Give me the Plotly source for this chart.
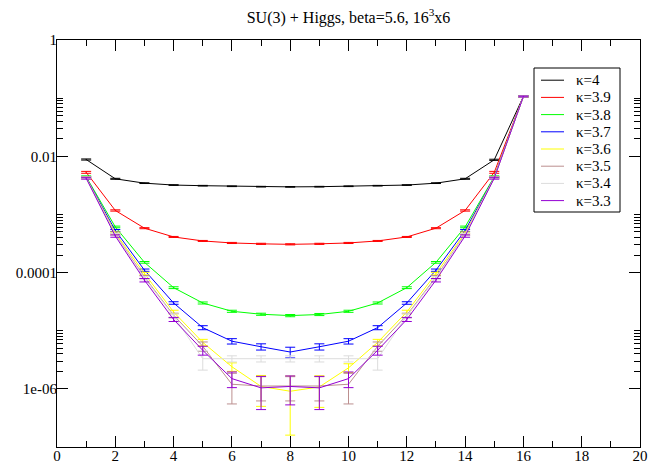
import plotly.graph_objects as go

# ---------------- data ----------------
t = list(range(1, 17))

kappa_labels = ["κ=4", "κ=3.9", "κ=3.8", "κ=3.7", "κ=3.6", "κ=3.5", "κ=3.4", "κ=3.3"]

k40 = [8.8e-3, 4.1e-3, 3.45e-3, 3.2e-3, 3.12e-3, 3.05e-3, 3.0e-3, 2.98e-3,
       3.0e-3, 3.05e-3, 3.12e-3, 3.2e-3, 3.45e-3, 4.1e-3, 8.7e-3, 0.107]
k40_err = [2.0e-4, 8e-5, 5e-5, 4e-5, 4e-5, 4e-5, 4e-5, 4e-5,
           4e-5, 4e-5, 4e-5, 4e-5, 5e-5, 8e-5, 2.0e-4, 2e-3]

k39 = [5.3e-3, 1.17e-3, 5.8e-4, 4.1e-4, 3.5e-4, 3.23e-4, 3.12e-4, 3.06e-4,
       3.12e-4, 3.23e-4, 3.5e-4, 4.1e-4, 5.8e-4, 1.17e-3, 5.3e-3, 0.107]
k39_err = [2e-4, 3e-5, 1.2e-5, 8e-6, 7e-6, 7e-6, 7e-6, 7e-6,
           7e-6, 7e-6, 7e-6, 8e-6, 1.2e-5, 3e-5, 2e-4, 2e-3]

k38 = [4.45e-3, 6.1e-4, 1.5e-4, 5.5e-5, 3.0e-5, 2.16e-5, 1.92e-5, 1.82e-5,
       1.9e-5, 2.16e-5, 3.0e-5, 5.5e-5, 1.5e-4, 6.1e-4, 4.45e-3, 0.107]
k38_err = [1.5e-4, 2e-5, 5e-6, 2e-6, 1.2e-6, 9e-7, 8e-7, 8e-7,
           8e-7, 9e-7, 1.2e-6, 2e-6, 5e-6, 2e-5, 1.5e-4, 2e-3]

k37 = [4.35e-3, 5.3e-4, 1.1e-4, 3.0e-5, 1.13e-5, 6.6e-6, 5.3e-6, 4.3e-6,
       5.3e-6, 6.6e-6, 1.13e-5, 3.0e-5, 1.1e-4, 5.3e-4, 4.35e-3, 0.107]
k37_err = [1.5e-4, 2e-5, 5e-6, 1.5e-6, 9e-7, 7e-7, 6.5e-7, 9e-7,
           6.5e-7, 7e-7, 9e-7, 1.5e-6, 5e-6, 2e-5, 1.5e-4, 2e-3]

k36 = [4.3e-3, 4.8e-4, 9.6e-5, 2.1e-5, 6.3e-6, 2.4e-6, 1.1e-6, 9.1e-7,
       1.08e-6, 2.3e-6, 6.3e-6, 2.1e-5, 9.6e-5, 4.8e-4, 4.3e-3, 0.107]
k36_err = [1.5e-4, 2e-5, 5e-6, 1.5e-6, 8e-7, 4e-7, 6e-7, 7.5e-7,
           6e-7, 4e-7, 8e-7, 1.5e-6, 5e-6, 2e-5, 1.5e-4, 2e-3]

k35 = [4.25e-3, 4.55e-4, 8.4e-5, 1.85e-5, 5.4e-6, 1.2e-6, 1.12e-6, 1.12e-6,
       1.12e-6, 1.2e-6, 5.4e-6, 1.85e-5, 8.4e-5, 4.55e-4, 4.25e-3, 0.107]
k35_err = [1.5e-4, 2e-5, 5e-6, 1.5e-6, 1e-6, 6.5e-7, 5e-7, 5e-7,
           5e-7, 6.5e-7, 1e-6, 1.5e-6, 5e-6, 2e-5, 1.5e-4, 2e-3]

k34 = [4.25e-3, 4.5e-4, 8.0e-5, 1.8e-5, 3.3e-6, 3.3e-6, 3.3e-6, 3.3e-6,
       3.3e-6, 3.3e-6, 3.3e-6, 1.8e-5, 8.0e-5, 4.5e-4, 4.25e-3, 0.107]
k34_err = [1.5e-4, 2e-5, 5e-6, 1.5e-6, 1.2e-6, 4e-7, 4e-7, 4e-7,
           4e-7, 4e-7, 1.2e-6, 1.5e-6, 5e-6, 2e-5, 1.5e-4, 2e-3]

k33 = [4.2e-3, 4.25e-4, 7.4e-5, 1.56e-5, 4.6e-6, 1.5e-6, 1.04e-6, 1.1e-6,
       1.04e-6, 1.5e-6, 4.6e-6, 1.56e-5, 7.4e-5, 4.25e-4, 4.2e-3, 0.107]
k33_err = [1.5e-4, 2e-5, 5e-6, 1.2e-6, 8e-7, 4.5e-7, 6e-7, 5.7e-7,
           6e-7, 4.5e-7, 8e-7, 1.2e-6, 5e-6, 2e-5, 1.5e-4, 2e-3]

series = [k40, k39, k38, k37, k36, k35, k34, k33]
errors = [k40_err, k39_err, k38_err, k37_err, k36_err, k35_err, k34_err, k33_err]

x_ticks = list(range(0, 21, 2))
y_tickvals = [1, 1e-2, 1e-4, 1e-6]
y_ticktext = ["1", "0.01", "0.0001", "1e-06"]

title_text = "SU(3) + Higgs, beta=5.6, 16<sup>3</sup>x6"

# ---------------- style ----------------
colors = ["#000000", "#ff0000", "#00ff00", "#0000ff", "#ffff00",
          "#bc8f8f", "#dcdcdc", "#9400d3"]
FONT = "Liberation Serif, Times New Roman, serif"
W, H = 650, 465
L, R, T, B = 57, 10, 40, 18

fig = go.Figure()
for vals, errs, col, lab in zip(series, errors, colors, kappa_labels):
    fig.add_trace(go.Scatter(
        x=t, y=vals, mode="lines", name=lab,
        line=dict(color=col, width=1),
        error_y=dict(type="data", array=errs, visible=True,
                     color=col, thickness=1, width=5),
        showlegend=False,
    ))

minor_y = [k * 10.0 ** e for e in (-2, -4, -6) for k in range(2, 11)]

fig.update_layout(
    width=W, height=H,
    margin=dict(l=L, r=R, t=T, b=B, autoexpand=False),
    paper_bgcolor="white", plot_bgcolor="white",
    font=dict(family=FONT, size=15, color="black"),
    title=dict(text=title_text, x=0.5, xref="paper", xanchor="center",
               y=1 - 17 / H, yref="container", yanchor="middle",
               font=dict(family=FONT, size=16, color="black")),
    xaxis=dict(range=[0, 20], tickvals=x_ticks, ticks="inside", ticklen=11,
               tickcolor="black", tickwidth=1, showline=True, linecolor="black",
               linewidth=1, mirror="allticks", showgrid=False, zeroline=False,
               tickfont=dict(family=FONT, size=15), ticklabelstandoff=-5,
               minor=dict(dtick=1, tick0=0, ticks="inside", ticklen=6,
                          tickcolor="black", tickwidth=1, showgrid=False)),
    yaxis=dict(type="log", range=[-7, 0], tickvals=y_tickvals, ticktext=y_ticktext,
               ticks="inside", ticklen=11, tickcolor="black", tickwidth=1,
               showline=True, linecolor="black", linewidth=1, mirror="allticks",
               showgrid=False, zeroline=False,
               tickfont=dict(family=FONT, size=15), ticklabelstandoff=-4,
               minor=dict(tickvals=minor_y, ticks="inside", ticklen=6,
                          tickcolor="black", tickwidth=1, showgrid=False)),
)

# ---------------- legend box (drawn in paper coords) ----------------
pw, ph = W - L - R, H - T - B
def px_x(px):
    return (px - L) / pw
def px_y(py):
    return (H - B - py) / ph

fig.add_shape(type="rect", xref="paper", yref="paper",
              x0=px_x(534), x1=px_x(620), y0=px_y(212), y1=px_y(68),
              line=dict(color="black", width=1), fillcolor="white", layer="above")
for i, (lab, col) in enumerate(zip(kappa_labels, colors)):
    yy = 80.2 + i * 17.2
    fig.add_shape(type="line", xref="paper", yref="paper",
                  x0=px_x(541), x1=px_x(564), y0=px_y(yy), y1=px_y(yy),
                  line=dict(color=col, width=1), layer="above")
    fig.add_annotation(text=lab, xref="paper", yref="paper",
                       x=px_x(574), y=px_y(yy), xanchor="left", yanchor="middle",
                       showarrow=False, font=dict(family=FONT, size=15, color="black"))

fig.write_html("out.html", config={"displayModeBar": False},
               post_script="document.body.style.margin='0';document.body.style.overflow='hidden';")
